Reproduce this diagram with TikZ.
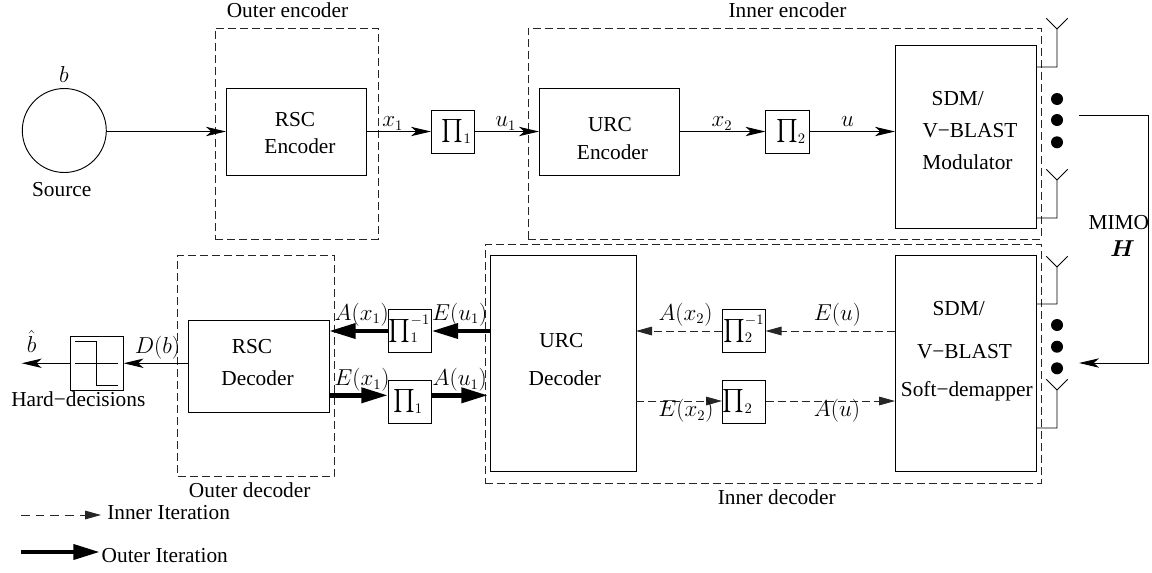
\documentclass[tikz,border=0pt]{standalone}
\usepackage{amsmath}
\usepackage{bm}
\usepackage[no-math]{fontspec}
\setmainfont{Liberation Serif}
\usetikzlibrary{arrows.meta,calc}
\tikzset{
  x=0.75pt,y=-0.75pt,
  every node/.style={inner sep=0pt,outer sep=0pt},
  boxn/.style={draw=black,line width=0.7pt,fill=none},
  dbox/.style={draw=black!85,line width=0.65pt,fill=none,dash pattern=on 6pt off 3pt},
  txt/.style={font=\fontsize{16}{18}\selectfont,anchor=base},
  wire/.style={draw=black,line width=0.7pt},
  thin arrow/.style={wire,-{Stealth[length=15pt,width=7pt,inset=4pt]}},
  dash arrow/.style={draw=black!85,line width=0.65pt,dash pattern=on 6pt off 3pt,-{Triangle[length=12pt,width=6.5pt]}},
  legend dash/.style={dash arrow,dash pattern=on 6.5pt off 4.5pt},
  thick arrow/.style={draw=black,line width=3.5pt,-{Triangle[length=20pt,width=11pt]}},
  ant/.style={draw=black,line width=0.7pt},
  dotn/.style={circle,fill=black,minimum size=9pt},
}
\newcommand{\bx}[6][boxn]{\node[#1,minimum width={(#5-#3)*0.75pt},minimum height={(#6-#4)*0.75pt}] (#2) at ({(#3+#5)/2},{(#4+#6)/2}) {};}
\newcommand{\lb}[4]{\node[txt] (#1) at (#2,#3) {#4};}
\newcommand{\antenna}[3]{%
  \coordinate (#1a) at (1036,#2);
  \coordinate (#1b) at (1057,#2);
  \coordinate (#1c) at (1057,#3);
  \coordinate (#1l) at ($(#1c)+(-10.7,-10.7)$);
  \coordinate (#1r) at ($(#1c)+(10.7,-10.7)$);
  \draw[ant] (#1a) -- (#1b) -- (#1c) -- (#1l) (#1c) -- (#1r);}
\begin{document}
\begin{tikzpicture}
\useasboundingbox (0,0) rectangle (1152,572);
% dashed groups
\bx[dbox]{outerenc}{215}{28}{378}{239}
\bx[dbox]{innerenc}{528}{28}{1041}{239}
\bx[dbox]{outerdec}{177.5}{255}{334}{476}
\bx[dbox]{innerdec}{485}{244.5}{1041}{483}
\lb{outerencl}{287.5}{17}{Outer encoder}
\lb{innerencl}{787.5}{17}{Inner encoder}
\lb{outerdecl}{249.7}{497.7}{Outer decoder}
\lb{innerdecl}{776.7}{504}{Inner decoder}
% source
\node[circle,draw=black,line width=0.7pt,minimum size=63pt] (src) at (64.3,130.5) {};
\lb{bl}{64}{82.7}{$b$}
\lb{srcl}{61.7}{196}{Source}
% top row
\bx{rscenc}{226}{88}{366.5}{175}
\lb{rsc1}{295}{126.7}{RSC}
\lb{rsc2}{300}{153.3}{Encoder}
\bx{pa}{431}{110}{474.5}{153}
\lb{pal}{456.7}{137}{$\textstyle\prod\nolimits_1$}
\bx{urcenc}{539}{88}{679.5}{175}
\lb{urc1}{610}{131.7}{URC}
\lb{urc2}{612.5}{159}{Encoder}
\bx{pb}{765.5}{110}{809}{153}
\lb{pbl}{791}{137}{$\textstyle\prod\nolimits_2$}
\bx{mod}{895}{45}{1036}{228.5}
\lb{m1}{957.8}{105}{SDM/}
\lb{m2}{970}{137}{V−BLAST}
\lb{m3}{967.5}{169}{Modulator}
\coordinate (srcout) at (src.east |- rscenc.west);
\draw[thin arrow] (srcout) -- (rscenc.west);
\draw[thin arrow] (rscenc.east) -- (pa.west);
\draw[thin arrow] (pa.east) -- (urcenc.west);
\draw[thin arrow] (urcenc.east) -- (pb.west);
\coordinate (modin) at (mod.west |- pb.east);
\draw[thin arrow] (pb.east) -- (modin);
\lb{x1l}{392.7}{126.7}{$x_1$}
\lb{u1l}{505.8}{126.7}{$u_1$}
\lb{x2l}{722}{126.7}{$x_2$}
\lb{ul}{847.5}{126}{$u$}
% decoders
\bx{rscdec}{188.5}{320}{329}{412}
\lb{rd1}{252}{353.3}{RSC}
\lb{rd2}{257.5}{385}{Decoder}
\bx{pc}{388}{309.5}{431.5}{352.5}
\lb{pcl}{409.5}{336.5}{$\textstyle\prod\nolimits_1^{-1}$}
\bx{pd}{388}{380}{431.5}{423}
\lb{pdl}{408}{407}{$\textstyle\prod\nolimits_1$}
\bx{urcdec}{490.5}{255}{636}{471}
\lb{ud1}{561.3}{347.3}{URC}
\lb{ud2}{564.8}{385}{Decoder}
\bx{pe}{722}{309.5}{765.5}{352.5}
\lb{pel}{743.7}{336.5}{$\textstyle\prod\nolimits_2^{-1}$}
\bx{pf}{722}{380}{765.5}{423}
\lb{pfl}{737.7}{407}{$\textstyle\prod\nolimits_2$}
\bx{dem}{895}{255}{1036}{471}
\lb{d1}{958.7}{315}{SDM/}
\lb{d2}{964.5}{358}{V−BLAST}
\lb{d3}{966.8}{396.7}{Soft−demapper}
\bx{hard}{70}{336.5}{123.5}{390}
\coordinate (q1) at (75,341.7);
\coordinate (q2) at (96.7,341.7);
\coordinate (q3) at (96.7,385);
\coordinate (q4) at (118.3,385);
\coordinate (q5) at (75,363.25);
\coordinate (q6) at (118.3,363.25);
\draw[wire] (q1) -- (q2) -- (q3) -- (q4);
\draw[wire] (q5) -- (q6);
\lb{hl}{78.3}{406.7}{Hard−decisions}
\coordinate (out) at (21.7,363.25);
\coordinate (rscdo) at (rscdec.west |- hard.east);
\draw[thin arrow] (rscdo) -- (hard.east);
\draw[thin arrow] (hard.west) -- (out);
\lb{bh}{31.7}{352.7}{$\hat{b}$}
\lb{dbl}{157.5}{353.3}{$D(b)$}
% thick arrows
\coordinate (urcu) at (urcdec.west |- pc.east);
\coordinate (rscu) at (rscdec.east |- pc.west);
\draw[thick arrow] (urcu) -- (pc.east);
\draw[thick arrow] (pc.west) -- (rscu);
\coordinate (rscl) at (329,395.3);
\coordinate (pdw) at (pd.west |- rscl);
\coordinate (pde) at (pd.east |- rscl);
\coordinate (urcl) at (488,395.3);
\draw[thick arrow] (rscl) -- (pdw);
\draw[thick arrow] (pde) -- (urcl);
\lb{axl}{361.7}{320}{$A(x_1)$}
\lb{eul}{459.7}{320}{$E(u_1)$}
\lb{exl}{362}{385.7}{$E(x_1)$}
\lb{aul}{459.7}{385.7}{$A(u_1)$}
% dashed arrows
\coordinate (demu) at (dem.west |- pe.east);
\coordinate (urcd) at (urcdec.east |- pe.west);
\draw[dash arrow] (demu) -- (pe.east);
\draw[dash arrow] (pe.west) -- (urcd);
\coordinate (urclo) at (636,401);
\coordinate (pfw) at (pf.west |- urclo);
\coordinate (pfe) at (pf.east |- urclo);
\coordinate (demlo) at (dem.west |- urclo);
\draw[dash arrow] (urclo) -- (pfw);
\draw[dash arrow] (pfe) -- (demlo);
\lb{ax2}{685.5}{320}{$A(x_2)$}
\lb{eu}{837.5}{320}{$E(u)$}
\lb{ex2}{686}{416.7}{$E(x_2)$}
\lb{au}{837}{416.7}{$A(u)$}
% antennas
\antenna{t}{67}{29}
\antenna{s}{218}{180}
\antenna{r}{304}{267}
\antenna{q}{428}{390}
\foreach \n/\y in {a/99,b/120,c/142.3,d/325,e/346.7,f/368.3}{
  \node[dotn] (dot\n) at (1057,\y) {};
}
% channel
\coordinate (ch1) at (1079,115);
\coordinate (ch2) at (1148,115);
\coordinate (ch3) at (1148,363);
\coordinate (ch4) at (1079,363);
\draw[thin arrow] (ch1) -- (ch2) -- (ch3) -- (ch4);
\lb{mimo}{1118.8}{229.3}{MIMO}
\lb{hh}{1122.5}{256}{$\bm{H}$}
% legend
\coordinate (la) at (21,515);
\coordinate (lb) at (101,515);
\draw[legend dash] (la) -- (lb);
\node[txt,anchor=base west] (inl) at (107.3,519.3) {Inner Iteration};
\coordinate (lc) at (21,552);
\coordinate (ld) at (100,552);
\draw[thick arrow] (lc) -- (ld);
\node[txt,anchor=base west] (oul) at (101.7,562.7) {Outer Iteration};
\end{tikzpicture}
\end{document}
